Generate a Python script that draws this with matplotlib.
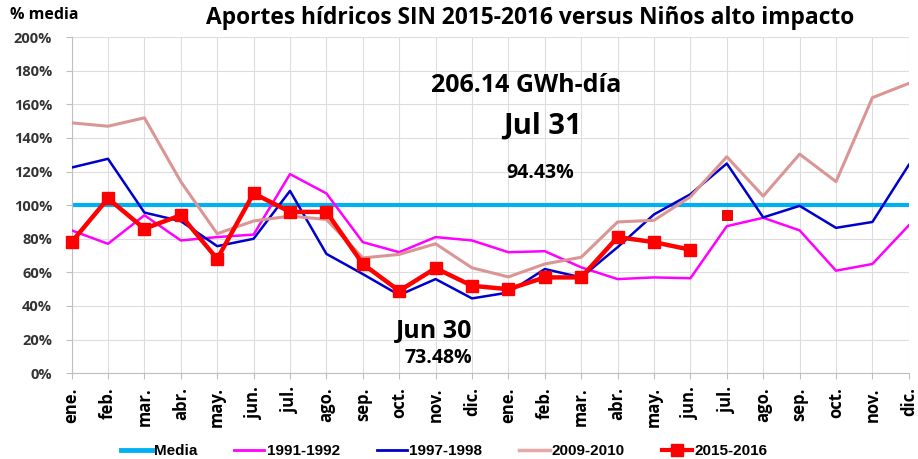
import matplotlib.pyplot as plt
from matplotlib.lines import Line2D

# meses (dos años)
meses = ["ene.", "feb.", "mar.", "abr.", "may.", "jun.", "jul.", "ago.",
         "sep.", "oct.", "nov.", "dic."] * 2
x = list(range(len(meses)))

media = [100] * 24
s_1991 = [85, 77, 94, 79, 81, 82.5, 118.5, 107, 78, 72, 81, 79,
          72, 72.6, 63, 56, 57, 56.5, 87.5, 92.5, 85, 61, 65, 88]
s_1997 = [122.4, 127.6, 95.6, 90.5, 75.6, 80, 108.5, 71, 59, 46.5, 56, 44.5,
          48, 62, 57, 75, 94.5, 106.5, 124.8, 92.7, 99.6, 86.5, 90, 124]
s_2009 = [149, 147, 152, 114, 83, 90.6, 93.5, 91.5, 68.6, 70.7, 77, 62.7,
          57.3, 65, 69, 90, 91, 105, 128.8, 105.4, 130.4, 114, 164, 172.5]
s_2015 = [78, 104, 86, 94, 68, 107, 96, 96, 65, 49, 62.5, 52,
          50, 57, 57, 81, 78, 73.48]
dia_jul = 94.43

plt.rcParams['font.family'] = ['Open Sans', 'DejaVu Sans']

fig = plt.figure(figsize=(9.18, 4.59), dpi=100)
ax = fig.add_axes([0.078, 0.187, 0.912, 0.732])

ax.plot(x, media, color="#00B0F0", lw=3, label="Media", zorder=2)
ax.plot(x, s_1991, color="#FF00FF", lw=1.8, label="1991-1992", zorder=3)
ax.plot(x, s_1997, color="#0000CC", lw=1.8, label="1997-1998", zorder=3)
ax.plot(x, s_2009, color="#D99694", lw=2.2, label="2009-2010", zorder=3)
ax.plot(x[:len(s_2015)], s_2015, color="#FF0000", lw=3.2, marker="s",
        markersize=9, label="2015-2016", zorder=4, clip_on=False)
ax.plot([6 + 12], [dia_jul], ls="none", marker="s", markersize=7,
        color="#FF0000", markeredgecolor="#C00000", markeredgewidth=0.6, zorder=5)

ax.set_xlim(0, 23)
ax.set_ylim(0, 200)
ax.set_yticks(range(0, 201, 20))
ax.set_yticklabels([f"{v}%" for v in range(0, 201, 20)], fontsize=10.5,
                   fontweight="bold", color="#333333")
ax.set_xticks(x)
ax.set_xticklabels(meses, rotation=90, fontsize=12, fontweight="bold")
ax.tick_params(axis="both", length=4, color="#BFBFBF")
ax.tick_params(axis="y", pad=10)
ax.tick_params(axis="x", pad=6)
ax.grid(True, color="#DDDDDD", lw=0.8)
ax.set_axisbelow(True)
for s in ["top", "right"]:
    ax.spines[s].set_visible(False)
ax.spines["left"].set_color("#BFBFBF")
ax.spines["bottom"].set_color("#BFBFBF")

fig.text(0.577, 0.96, "Aportes hídricos SIN 2015-2016 versus Niños alto impacto",
         ha="center", va="center", fontsize=16.4, fontweight="bold")
fig.text(0.011, 0.967, "% media", ha="left", va="center", fontsize=11.5,
         fontweight="bold")

ax.text(12.5, 171, "206.14 GWh-día", ha="center", va="center", fontsize=18,
        fontweight="bold")
ax.text(12.95, 147, "Jul 31", ha="center", va="center", fontsize=21,
        fontweight="bold")
ax.text(12.87, 119, "94.43%", ha="center", va="center", fontsize=14,
        fontweight="bold")
ax.text(9.97, 25, "Jun 30", ha="center", va="center", fontsize=18,
        fontweight="bold")
ax.text(10.08, 9, "73.48%", ha="center", va="center", fontsize=14,
        fontweight="bold")

handles = [
    Line2D([], [], color="#00B0F0", lw=3.5),
    Line2D([], [], color="#FF00FF", lw=2),
    Line2D([], [], color="#0000CC", lw=2),
    Line2D([], [], color="#E6A9A7", lw=2.5),
    Line2D([], [], color="#FF0000", lw=3, marker="s", markersize=8),
]
fig.legend(handles, ["Media", "1991-1992", "1997-1998", "2009-2010", "2015-2016"],
           loc="center", bbox_to_anchor=(0.484, 0.017), ncol=5, frameon=False,
           prop={"family": ["Liberation Sans", "DejaVu Sans"],
                 "weight": "bold", "size": 11},
           handlelength=2.0, columnspacing=2.4, handletextpad=0.15)

fig.savefig("out.png", dpi=100)
